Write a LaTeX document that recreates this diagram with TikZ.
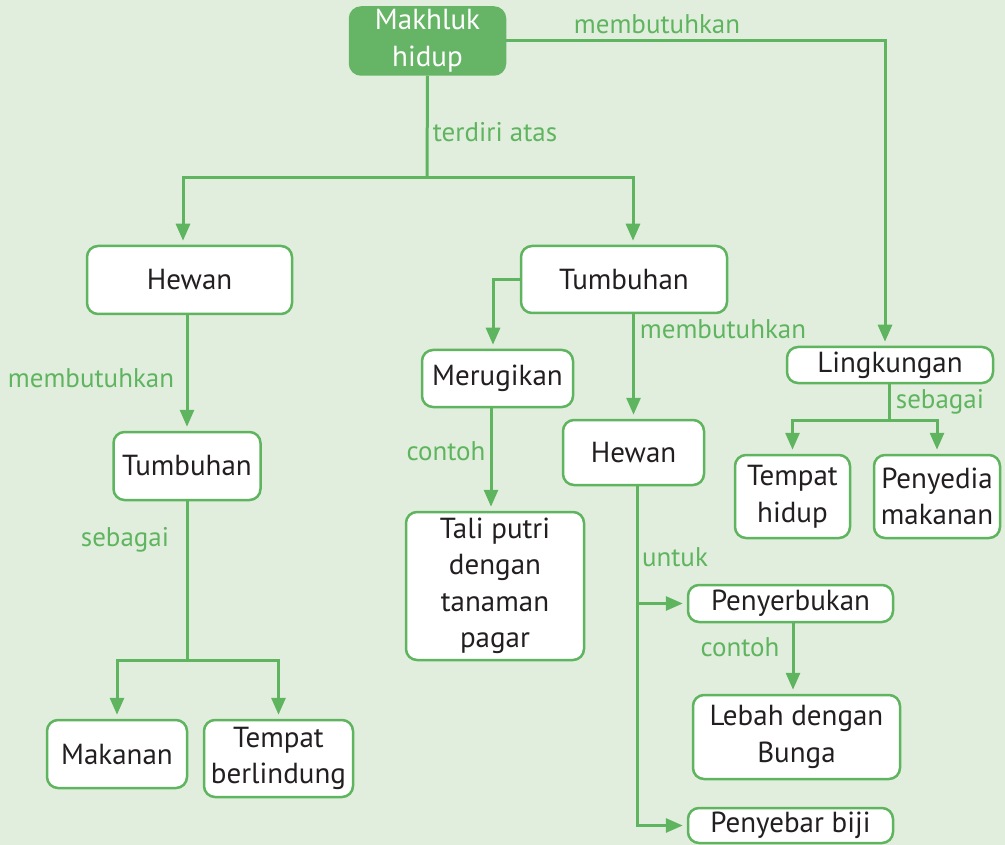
\documentclass[tikz,border=0pt]{standalone}
\usepackage{fontspec}
\setmainfont{PT Sans}
\usepackage{tikz}
\usetikzlibrary{arrows.meta}
\definecolor{bgreen}{HTML}{E2EEDD}
\definecolor{lgreen}{HTML}{5FB55F}
\definecolor{fgreen}{HTML}{66B466}
\definecolor{txtgrey}{HTML}{231F20}

\begin{document}
\begin{tikzpicture}[x=1pt, y=-1pt,
    box/.style={draw=lgreen, line width=2.5pt, fill=white, rounded corners=11pt,
        align=center, text=txtgrey, inner sep=0pt, font=\fontsize{29}{36.5}\selectfont},
    topbox/.style={box, fill=fgreen, draw=fgreen, text=white},
    lbl/.style={text=lgreen, font=\fontsize{27}{32}\selectfont, inner sep=0pt},
    ln/.style={draw=lgreen, line width=3pt},
    arr/.style={ln, -{Triangle[length=17pt, width=14pt]}, shorten >=4pt}]
    % background
    \fill[bgreen] (0,0) rectangle (1005,845);
    \useasboundingbox (0,0) rectangle (1005,845);

    % boxes
    \node[topbox, minimum width=155, minimum height=67] (mh) at (427.5,41) {Makhluk\\hidup};
    \node[box, minimum width=205, minimum height=68] (hw1) at (189.5,280) {Hewan};
    \node[box, minimum width=206, minimum height=67] (tb1) at (624,279.5) {Tumbuhan};
    \node[box, minimum width=147, minimum height=68] (tb2) at (187,466) {Tumbuhan};
    \node[box, minimum width=140, minimum height=68] (mk) at (117,754) {Makanan};
    \node[box, minimum width=149, minimum height=77] (tbl) at (278.5,758.5) {Tempat\\berlindung};
    \node[box, minimum width=151, minimum height=57] (mr) at (497.5,378.5) {Merugikan};
    \node[box, minimum width=178, minimum height=148] (tp) at (495,586) {Tali putri\\dengan\\tanaman\\pagar};
    \node[box, minimum width=141, minimum height=65] (hw2) at (633.5,452.5) {Hewan};
    \node[box, minimum width=205, minimum height=37] (ps) at (790.5,603.5) {Penyerbukan};
    \node[box, minimum width=207, minimum height=84] (lb) at (796.5,737) {Lebah dengan\\Bunga};
    \node[box, minimum width=205, minimum height=35] (pb) at (790.5,825.5) {Penyebar biji};
    \node[box, minimum width=206, minimum height=36] (lk) at (890,365) {Lingkungan};
    \node[box, minimum width=115, minimum height=83] (th) at (792.5,496.5) {Tempat\\hidup};
    \node[box, minimum width=126, minimum height=83] (pd) at (937,496.5) {Penyedia\\makanan};

    % junctions
    \coordinate (j1) at (427,178);
    \coordinate (j2) at (187,660);
    \coordinate (j3) at (889,420);

    % connectors
    \draw[arr] (mh.east) -| ([xshift=-5]lk.north);
    \draw[ln] (mh.south) -- (j1);
    \draw[arr] (j1) -| ([xshift=-6.5]hw1.north);
    \draw[arr] (j1) -| ([xshift=9]tb1.north);
    \draw[arr] (tb2.north |- hw1.south) -- (tb2.north);
    \draw[ln] (tb2.south) -- (j2);
    \draw[arr] (j2) -| (mk.north);
    \draw[arr] (j2) -| (tbl.north);
    \draw[arr] (tb1.west) -| ([xshift=-4.5]mr.north);
    \draw[arr] (hw2.north |- tb1.south) -- (hw2.north);
    \draw[arr] ([xshift=-4]tp.north |- mr.south) -- ([xshift=-4]tp.north);
    \draw[arr] ([xshift=3.5]hw2.south) |- (ps.west);
    \draw[arr] ([xshift=3.5]hw2.south) |- (pb.west);
    \draw[arr] ([xshift=-3.5]lb.north |- ps.south) -- ([xshift=-3.5]lb.north);
    \draw[ln] ([xshift=-1]lk.south) -- (j3);
    \draw[arr] (j3) -| (th.north);
    \draw[arr] (j3) -| (pd.north);

    % labels
    \node[lbl] (l1) at (657,24) {membutuhkan};
    \node[lbl] (l2) at (495,132) {terdiri atas};
    \node[lbl] (l3) at (91,378) {membutuhkan};
    \node[lbl] (l4) at (723,329) {membutuhkan};
    \node[lbl] (l5) at (125,540) {sebagai};
    \node[lbl] (l6) at (446,451) {contoh};
    \node[lbl] (l7) at (675,557) {untuk};
    \node[lbl] (l8) at (740,647) {contoh};
    \node[lbl] (l9) at (940,402) {sebagai};
\end{tikzpicture}
\end{document}
